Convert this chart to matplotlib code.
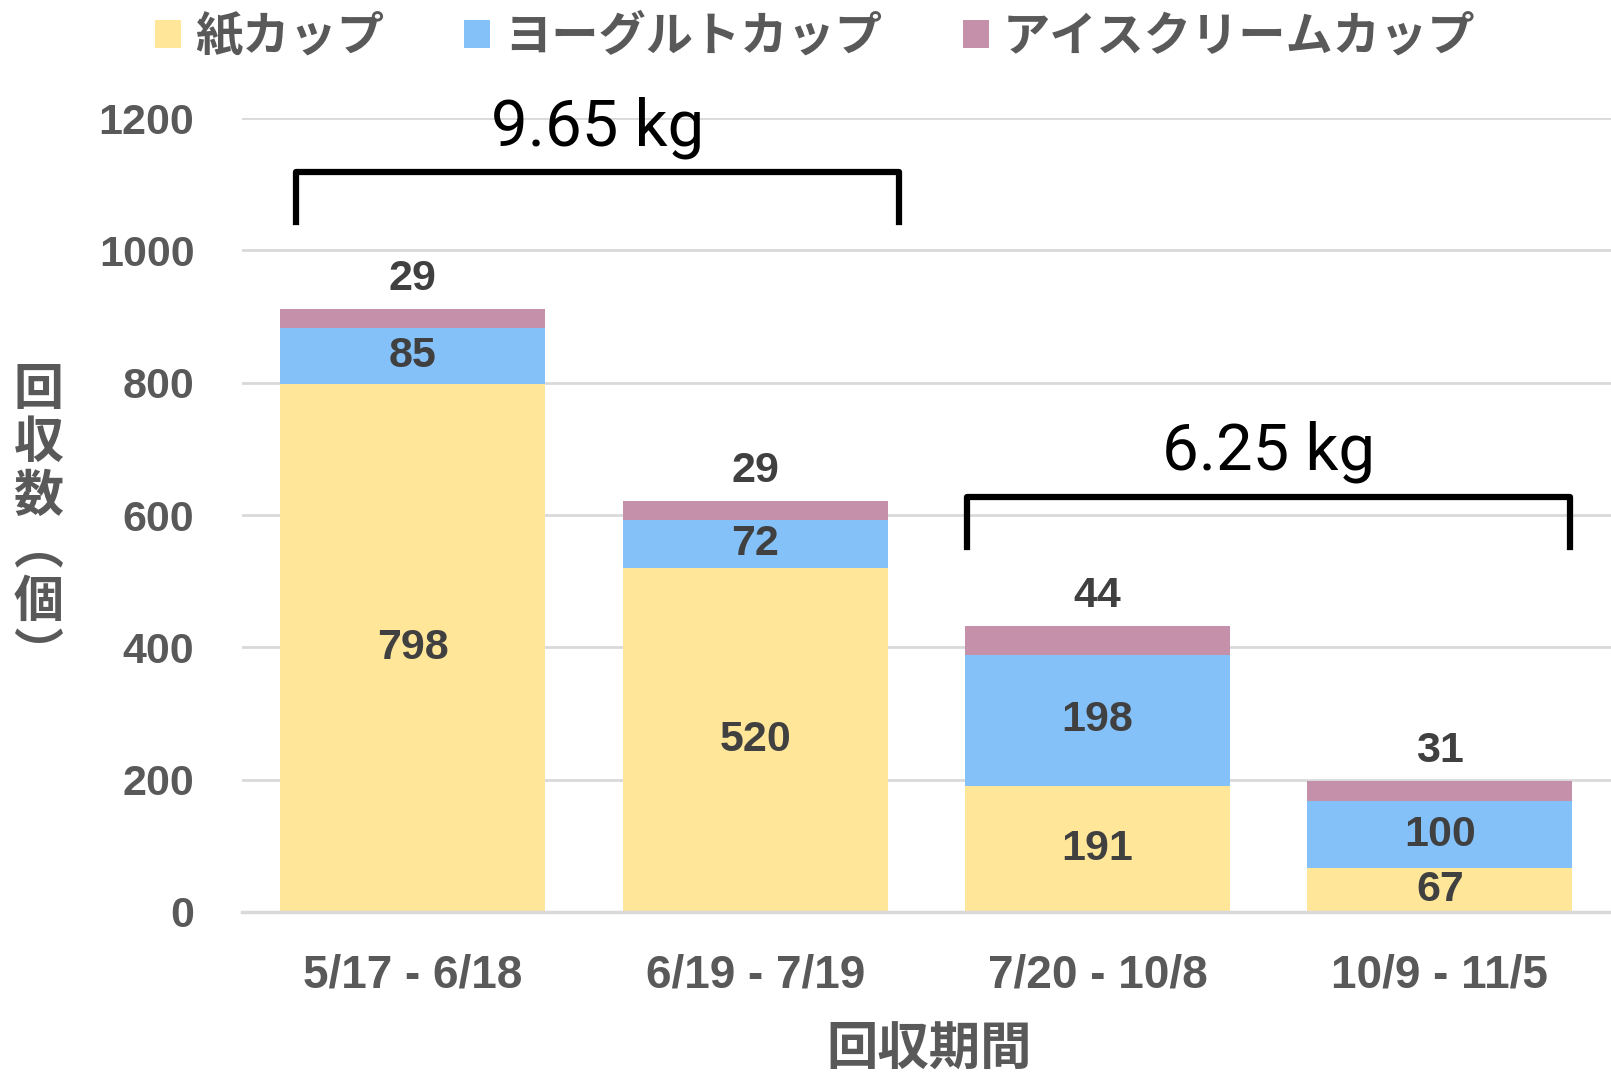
import matplotlib.pyplot as plt
import numpy as np
from matplotlib.patches import Patch

# データ
periods = ["5/17 - 6/18", "6/19 - 7/19", "7/20 - 10/8", "10/9 - 11/5"]
paper = [798, 520, 191, 67]
yogurt = [85, 72, 198, 100]
icecream = [29, 29, 44, 31]
series_names = ["紙カップ", "ヨーグルトカップ", "アイスクリームカップ"]
yticks = [0, 200, 400, 600, 800, 1000, 1200]
weights = ["9.65 kg", "6.25 kg"]

# レイアウト用
bracket_x = [(-0.34, 1.42), (1.62, 3.38)]
bracket_top = [1118, 627]
bracket_leg = 75

colors = ["#FFE699", "#85C1F9", "#C490AA"]
gray = "#595959"
dark = "#404040"
jp = ["Noto Sans CJK JP", "DejaVu Sans"]
num = ["Liberation Sans", "DejaVu Sans"]

fig = plt.figure(figsize=(16.11, 10.78), dpi=100)
ax = fig.add_axes([0.150, 0.154, 0.85, 0.7365])

x = np.arange(len(periods))
w = 0.775
b0 = ax.bar(x, paper, w, color=colors[0], zorder=2)
b1 = ax.bar(x, yogurt, w, bottom=paper, color=colors[1], zorder=2)
bottom2 = np.array(paper) + np.array(yogurt)
b2 = ax.bar(x, icecream, w, bottom=bottom2, color=colors[2], zorder=2)

lab = dict(fontsize=31, fontweight="bold", color=dark, family=num)
ax.bar_label(b0, label_type="center", **lab)
ax.bar_label(b1, label_type="center", **lab)
ax.bar_label(b2, labels=[str(v) for v in icecream], padding=7, **lab)

ax.set_xlim(-0.5, 3.5)
ax.set_ylim(0, 1200)
ax.set_yticks(yticks)
ax.set_xticks(x)
ax.set_xticklabels(periods)
ax.yaxis.grid(True, color="#D9D9D9", lw=2)
ax.set_axisbelow(True)
for s in ["top", "right", "left"]:
    ax.spines[s].set_visible(False)
ax.spines["bottom"].set_color("#D9D9D9")
ax.spines["bottom"].set_linewidth(2.5)
ax.tick_params(axis="both", length=0, labelsize=31, labelcolor=gray)
ax.tick_params(axis="y", pad=34)
ax.tick_params(axis="x", pad=30, labelsize=33)
for t in ax.get_xticklabels() + ax.get_yticklabels():
    t.set_fontweight("bold")
    t.set_family(num)

# 重量の括弧
for (x0, x1), top, txt in zip(bracket_x, bracket_top, weights):
    ax.plot([x0, x0, x1, x1], [top - bracket_leg, top, top, top - bracket_leg],
            color="black", lw=4.5, solid_joinstyle="round", clip_on=False, zorder=3)
    ax.text((x0 + x1) / 2, top + 68, txt, ha="center", va="center",
            fontsize=47, color="black", family=["Roboto", "DejaVu Sans"],
            clip_on=False)

fig.text(0.024, 0.515, "回\n収\n数\n︵\n個\n︶", ha="center", va="center",
         fontsize=36, fontweight="bold", color=gray, family=jp, linespacing=1.05)
fig.text(0.577, 0.027, "回収期間", ha="center", va="center",
         fontsize=37, fontweight="bold", color=gray, family=jp)

handles = [Patch(facecolor=c, edgecolor="none") for c in colors]
fig.legend(handles, series_names, loc="center", bbox_to_anchor=(0.506, 0.966),
           ncol=3, frameon=False, prop=dict(family=jp, weight="bold", size=34),
           labelcolor=gray, handlelength=0.55, handleheight=0.55,
           handletextpad=0.3, columnspacing=1.7)

fig.savefig("out.png", dpi=100)
